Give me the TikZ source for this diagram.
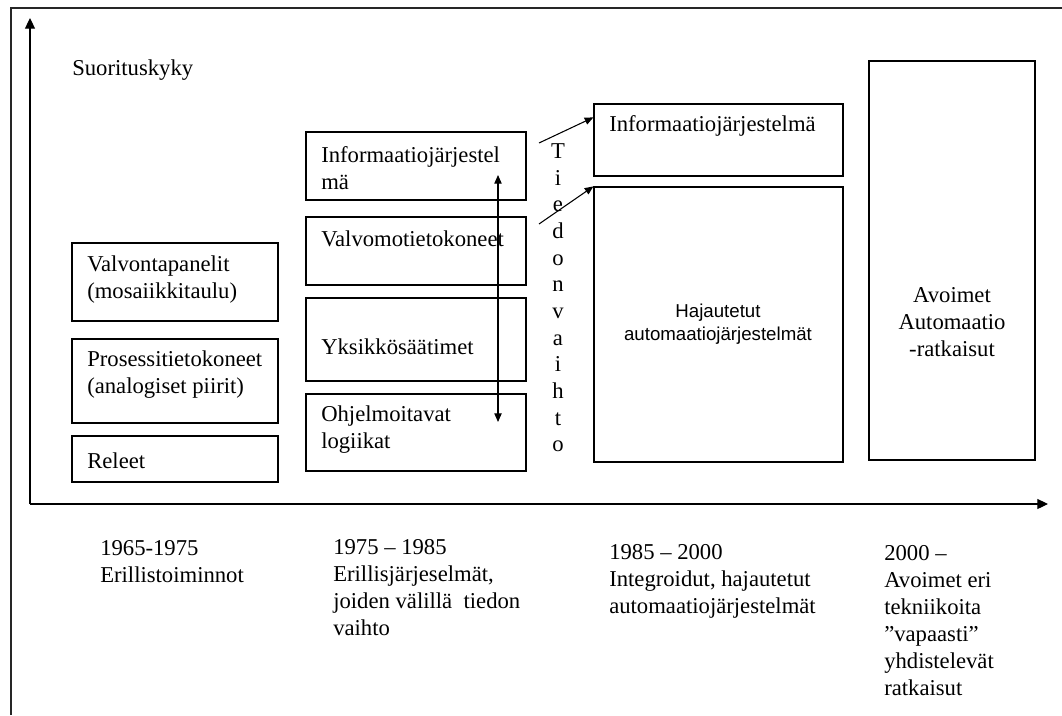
\documentclass[tikz,border=0pt]{standalone}
\usepackage{fontspec}
\setmainfont{Liberation Serif}
\newfontfamily\arialfont{Liberation Sans}
\usetikzlibrary{arrows.meta,fit}
\tikzset{
  axis/.style={-{Triangle[length=8pt,width=7.5pt]},line width=0.8pt},
  flow/.style={-{Triangle[length=6.5pt,width=5.5pt]},line width=0.8pt},
  twoway/.style={{Triangle[length=6.5pt,width=5.5pt]}-{Triangle[length=6.5pt,width=5.5pt]},line width=0.8pt},
  frame/.style={line width=1.3pt,draw=black!85},
  box/.style={draw,line width=0.9pt,inner sep=0pt},
  txt/.style={font=\fontsize{17}{20.25}\selectfont,align=left,inner sep=0pt,anchor=west},
  ctxt/.style={txt,align=center,anchor=center},
  sanstxt/.style={font=\arialfont\fontsize{14}{17.25}\selectfont,align=center,inner sep=0pt},
}

\begin{document}
\begin{tikzpicture}[x=0.75pt,y=-0.75pt]
    % performance over time: four eras of automation systems
    \useasboundingbox (0,0) rectangle (1062,715);
    \draw[frame] (11,715) -- (11,8) -- (1062,8);

    \coordinate (origin) at (30,504);
    \coordinate (ytip) at (30,18);
    \coordinate (xtip) at (1048,504);
    \draw[axis] (origin) -- (ytip);
    \draw[axis] (origin) -- (xtip);
    \node[txt] (ylabel) at (72,70) {Suorituskyky};

    % 1965-1975
    \node[box,fit={(72,243) (278,321)}] (panelit) {};
    \node[box,fit={(72,339) (278,423)}] (prosessi) {};
    \node[box,fit={(72,436) (278,482)}] (releet) {};
    \node[txt] (panelitT) at (87,280) {Valvontapanelit\\(mosaiikkitaulu)};
    \node[txt] (prosessiT) at (87,375) {Prosessitietokoneet\\(analogiset piirit)};
    \node[txt] (releetT) at (87,461) {Releet};

    % 1975-1985
    \node[box,fit={(306,132) (526,200)}] (info) {};
    \node[box,fit={(306,217) (526,285)}] (valvomo) {};
    \node[box,fit={(306,298) (526,381)}] (saatimet) {};
    \node[box,fit={(306,394) (526,471)}] (logiikat) {};
    \node[txt] (infoT) at (321,168) {Informaatiojärjestel\\mä};
    \node[txt] (valvomoT) at (321,239) {Valvomotietokoneet};
    \node[txt] (saatimetT) at (321,347) {Yksikkösäätimet};
    \node[txt] (logiikatT) at (321,430) {Ohjelmoitavat\\logiikat};
    \coordinate (vtop) at (498,175);
    \coordinate (vbot) at (498,422);
    \draw[twoway] (vbot) -- (vtop);

    \node[ctxt,font=\fontsize{17}{20}\selectfont] (vaihto) at (558,298)
      {T\\i\\e\\d\\o\\n\\v\\a\\i\\h\\t\\o};

    % 1985-2000
    \node[box,fit={(594,104) (843,176)}] (info3) {};
    \node[box,fit={(594,187) (843,462)}] (hajautetut) {};
    \node[txt] (info3T) at (609,126) {Informaatiojärjestelmä};
    \node[sanstxt] (hajautetutT) at (718,324) {Hajautetut\\automaatiojärjestelmät};
    \coordinate (from1) at (539,143);
    \coordinate (from2) at (539,224);
    \draw[flow] (from1) -- ([yshift=-10.5pt]info3.north west);
    \draw[flow] (from2) -- (hajautetut.north west);

    % 2000-
    \node[box,fit={(869,61) (1035,460)}] (avoimet) {};
    \node[ctxt] (avoimetT) at (952,322) {Avoimet\\Automaatio\\-ratkaisut};

    % eras on the time axis
    \node[txt] (era1) at (100,562) {1965-1975\\Erillistoiminnot};
    \node[txt] (era2) at (333,588) {1975 – 1985\\Erillisjärjeselmät,\\joiden välillä\ \ tiedon\\vaihto};
    \node[txt] (era3) at (609,581) {1985 – 2000\\Integroidut, hajautetut\\automaatiojärjestelmät};
    \node[txt] (era4) at (884,621) {2000 –\\Avoimet eri\\tekniikoita\\”vapaasti”\\yhdistelevät\\ratkaisut};
  \end{tikzpicture}
\end{document}
